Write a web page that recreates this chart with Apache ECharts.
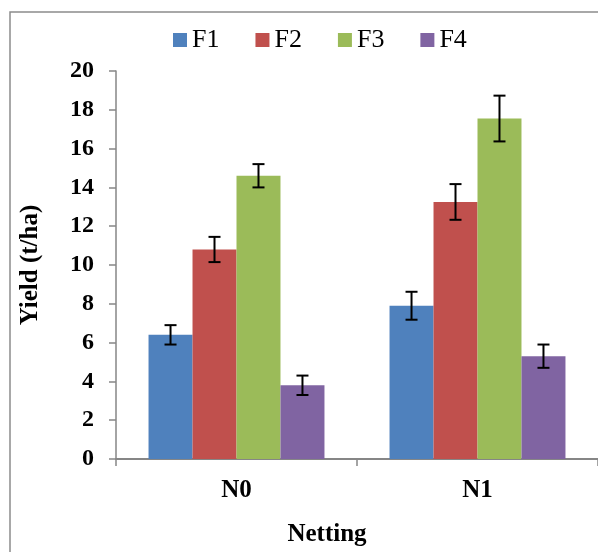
<!DOCTYPE html>
<html><head><meta charset="utf-8">
<script src="https://cdn.jsdelivr.net/npm/echarts@6/dist/echarts.min.js"></script>
<style>html,body{margin:0;padding:0;background:#fff}#c{width:598px;height:552px}</style>
</head><body><div id="c"></div>
<script>
const categories = ['N0', 'N1'];
const seriesNames = ['F1', 'F2', 'F3', 'F4'];
const F1 = [6.4, 7.9];
const F2 = [10.8, 13.25];
const F3 = [14.6, 17.55];
const F4 = [3.8, 5.3];
const F1err = [0.5, 0.72];
const F2err = [0.65, 0.92];
const F3err = [0.6, 1.18];
const F4err = [0.5, 0.6];
const yTicks = [0, 2, 4, 6, 8, 10, 12, 14, 16, 18, 20];
const colors = ['#4F81BD', '#C0504D', '#9BBB59', '#8064A2'];

const values = [F1, F2, F3, F4];
const errs = [F1err, F2err, F3err, F4err];
const catGap = 0.27;
const font = 'Liberation Serif';

const errData = [];
values.forEach((vals, k) => vals.forEach((v, i) => errData.push([i, v, errs[k][i], k])));

const chart = echarts.init(document.getElementById('c'));
chart.setOption({
  animation: false,
  textStyle: { fontFamily: font },
  graphic: [{ type: 'rect', shape: { x: 10, y: 12, width: 620, height: 600 }, style: { fill: 'none', stroke: '#8c8c8c', lineWidth: 1.5 }, silent: true }],
  legend: {
    data: seriesNames, top: 27, left: 173, padding: 0, itemWidth: 14, itemHeight: 14, itemGap: 36, icon: 'rect',
    textStyle: { fontFamily: font, fontSize: 26, color: '#000' }
  },
  grid: { left: 116, top: 71, width: 488, bottom: 92 },
  xAxis: {
    type: 'category', data: categories,
    name: 'Netting', nameLocation: 'middle', nameGap: 63,
    nameTextStyle: { fontFamily: font, fontSize: 25, fontWeight: 'bold', color: '#000', padding: [0, 60, 0, 0] },
    axisLine: { lineStyle: { color: '#868686', width: 2 } },
    axisTick: { show: true, alignWithLabel: false, length: 7, lineStyle: { color: '#868686', width: 1.5 } },
    axisLabel: { fontFamily: font, fontSize: 25, fontWeight: 'bold', color: '#000', margin: 19 }
  },
  yAxis: {
    type: 'value', min: yTicks[0], max: yTicks[yTicks.length - 1], interval: 2,
    name: 'Yield (t/ha)', nameLocation: 'middle', nameGap: 73, nameRotate: 90,
    nameTextStyle: { fontFamily: font, fontSize: 25, fontWeight: 'bold', color: '#000' },
    axisLine: { show: true, lineStyle: { color: '#868686', width: 1.5 } },
    axisTick: { show: true, length: 7, lineStyle: { color: '#868686', width: 1.5 } },
    splitLine: { show: false },
    axisLabel: { fontFamily: font, fontSize: 24, fontWeight: 'bold', color: '#000', margin: 22 }
  },
  series: seriesNames.map((n, k) => ({
    name: n, type: 'bar', data: values[k], barGap: '0%', barCategoryGap: (catGap * 100) + '%',
    itemStyle: { color: colors[k] }
  })).concat([{
    type: 'custom', name: 'err', z: 10, data: errData,
    renderItem: function (params, api) {
      const cat = api.value(0), v = api.value(1), e = api.value(2), k = api.value(3);
      const band = api.size([1, 0])[0];
      const bw = band * (1 - catGap) / 4;
      const c = api.coord([cat, v]);
      const x = c[0] + (k - 1.5) * bw;
      const yt = api.coord([cat, v + e])[1];
      const yb = api.coord([cat, v - e])[1];
      const cap = 6;
      const st = { stroke: '#000', lineWidth: 2 };
      return { type: 'group', children: [
        { type: 'line', shape: { x1: x, y1: yt, x2: x, y2: yb }, style: st },
        { type: 'line', shape: { x1: x - cap, y1: yt, x2: x + cap, y2: yt }, style: st },
        { type: 'line', shape: { x1: x - cap, y1: yb, x2: x + cap, y2: yb }, style: st }
      ]};
    }
  }])
});
</script></body></html>
